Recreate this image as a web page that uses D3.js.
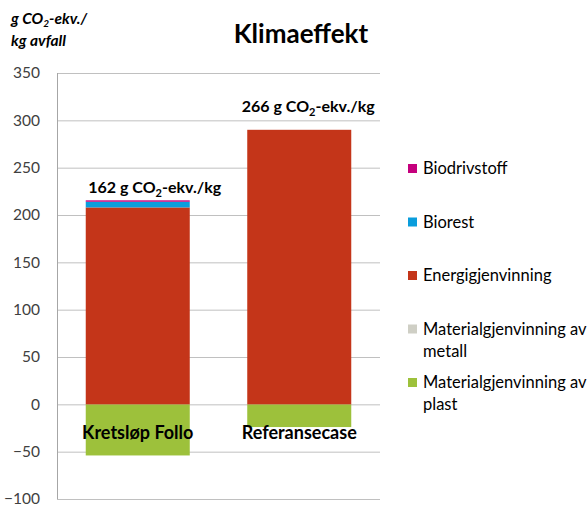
<!DOCTYPE html>
<html>
<head>
<meta charset="utf-8">
<script src="https://cdn.jsdelivr.net/npm/d3@7"></script>
<style>
  body { margin: 0; background: #fff; }
  text { font-family: Lato, "Open Sans", sans-serif; }
</style>
</head>
<body>
<div id="chart"></div>
<script>
// data
var categories = ["Kretsløp Follo", "Referansecase"];
var seriesNames = ["Biodrivstoff", "Biorest", "Energigjenvinning", "Materialgjenvinning av metall", "Materialgjenvinning av plast"];
var biodrivstoff = [1.5, 0];
var biorest = [6, 0];
var energigjenvinning = [208, 290];
var metall = [0, 0];
var plast = [-54, -24];
var totals = ["162", "266"];
var yTicks = [-100, -50, 0, 50, 100, 150, 200, 250, 300, 350];

var colors = {
  "Biodrivstoff": "#c5007d",
  "Biorest": "#0a9ddc",
  "Energigjenvinning": "#c43519",
  "Materialgjenvinning av metall": "#cfcfc5",
  "Materialgjenvinning av plast": "#9dc13b"
};

var W = 588, H = 506;
var svg = d3.select("#chart").append("svg")
  .attr("width", W).attr("height", H);

var x = d3.scaleBand().domain(categories).range([57, 380])
  .paddingInner(0.356).paddingOuter(0.178);
var y = d3.scaleLinear().domain([-100, 350]).range([499, 73]);

// gridlines + axis
var yAxis = svg.append("g").attr("transform", "translate(57,0)")
  .call(d3.axisLeft(y).tickValues(yTicks).tickSize(-(380 - 57)).tickFormat(d3.format("d")));
yAxis.select(".domain").remove();
yAxis.selectAll(".tick line").attr("stroke", "#c0c0c0").attr("stroke-width", 1);
yAxis.selectAll(".tick text").attr("x", -17).attr("fill", "#404040")
  .style("font-size", "15.5px").style("font-family", "Lato, 'Open Sans', sans-serif");
svg.append("line").attr("x1", 57.5).attr("x2", 57.5).attr("y1", y(350)).attr("y2", y(-100))
  .attr("stroke", "#a6a6a6");

// stacked bars
var table = categories.map(function(c, i) {
  return {
    cat: c,
    "Materialgjenvinning av plast": plast[i],
    "Materialgjenvinning av metall": metall[i],
    "Energigjenvinning": energigjenvinning[i],
    "Biorest": biorest[i],
    "Biodrivstoff": biodrivstoff[i]
  };
});
var stackKeys = ["Materialgjenvinning av plast", "Materialgjenvinning av metall", "Energigjenvinning", "Biorest", "Biodrivstoff"];
var stacked = d3.stack().keys(stackKeys).offset(d3.stackOffsetDiverging)(table);

svg.append("g").selectAll("g")
  .data(stacked).enter().append("g")
  .attr("fill", function(d) { return colors[d.key]; })
  .selectAll("rect").data(function(d) { return d; }).enter().append("rect")
  .attr("x", function(d) { return x(d.data.cat); })
  .attr("width", x.bandwidth())
  .attr("y", function(d) { return y(Math.max(d[0], d[1])); })
  .attr("height", function(d) { return Math.abs(y(d[0]) - y(d[1])); });

// total labels
var labelGap = [7, 18];
var labelShift = [17, 9];
categories.forEach(function(c, i) {
  var top = energigjenvinning[i] + biorest[i] + biodrivstoff[i];
  var t = svg.append("text")
    .attr("x", x(c) + x.bandwidth() / 2 + labelShift[i])
    .attr("y", y(top) - labelGap[i])
    .attr("text-anchor", "middle")
    .style("font-size", "16px").style("font-weight", "bold").attr("fill", "#000");
  t.append("tspan").text(totals[i] + " g CO");
  t.append("tspan").text("2").style("font-size", "11px").attr("dy", 4);
  t.append("tspan").text("-ekv./kg").attr("dy", -4);
});

// category labels
svg.selectAll("text.cat").data(categories).enter().append("text")
  .attr("class", "cat")
  .attr("x", function(d) { return x(d) + x.bandwidth() / 2; })
  .attr("y", 439)
  .attr("text-anchor", "middle")
  .style("font-size", "18px").style("font-weight", "bold")
  .text(function(d) { return d; });

// title
svg.append("text").attr("x", 301).attr("y", 43).attr("text-anchor", "middle")
  .style("font-size", "26px").style("font-weight", "bold").text("Klimaeffekt");

// y axis title
var yt = svg.append("text").attr("x", 11).attr("y", 24)
  .style("font-size", "15.5px").style("font-weight", "bold").style("font-style", "italic");
yt.append("tspan").text("g CO");
yt.append("tspan").text("2").style("font-size", "10px").attr("dy", 3);
yt.append("tspan").text("-ekv./").attr("dy", -3);
svg.append("text").attr("x", 11).attr("y", 46)
  .style("font-size", "15.5px").style("font-weight", "bold").style("font-style", "italic")
  .text("kg avfall");

// legend
var legendRows = [
  { name: "Biodrivstoff", lines: ["Biodrivstoff"] },
  { name: "Biorest", lines: ["Biorest"] },
  { name: "Energigjenvinning", lines: ["Energigjenvinning"] },
  { name: "Materialgjenvinning av metall", lines: ["Materialgjenvinning av", "metall"] },
  { name: "Materialgjenvinning av plast", lines: ["Materialgjenvinning av", "plast"] }
];
var legend = svg.append("g");
legendRows.forEach(function(r, i) {
  var cy = 168 + i * 53.5;
  legend.append("rect").attr("x", 408).attr("y", cy - 4).attr("width", 9).attr("height", 9)
    .attr("fill", colors[r.name]);
  r.lines.forEach(function(l, j) {
    legend.append("text").attr("x", 423).attr("y", cy + 6 + j * 22)
      .style("font-size", "16.5px").attr("fill", "#000").text(l);
  });
});
</script>
</body>
</html>
